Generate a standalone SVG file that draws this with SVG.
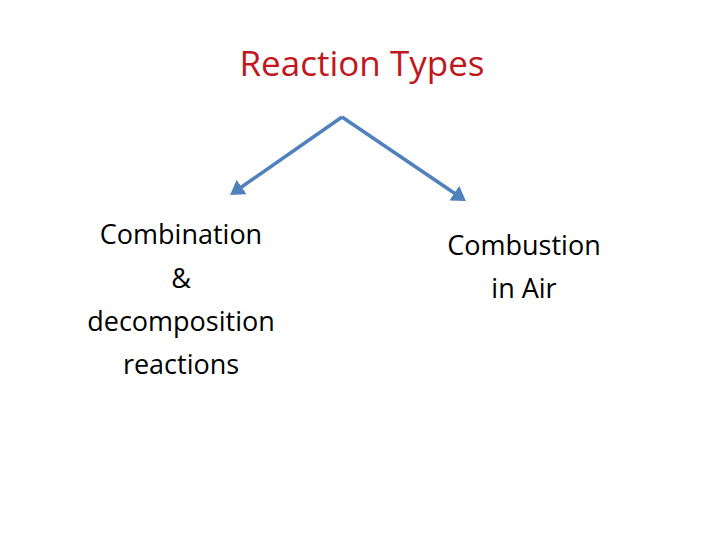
<svg xmlns="http://www.w3.org/2000/svg" width="720" height="540" viewBox="0 0 720 540">
<style>
.t{font-family:"Open Sans","Liberation Sans",sans-serif;text-anchor:middle;fill:#000;font-size:27px}
.c{stroke:#4f81bd;stroke-width:3.5;fill:none}
</style>
<defs><marker id="a" markerWidth="5" markerHeight="5" refX="3" refY="2.5" orient="auto" markerUnits="strokeWidth"><path d="M0,0 L4,2.5 L0,5 Z" fill="#4f81bd"/></marker></defs>
<rect width="720" height="540" fill="#fff"/>
<g id="title"><text x="362" y="76" class="t" style="font-size:35px;fill:#c0181c">Reaction Types</text></g>
<g id="connectors">
<path class="c" d="M342,117 L233,193" marker-end="url(#a)"/>
<path class="c" d="M342,117 L463,199" marker-end="url(#a)"/>
</g>
<g id="left"><text class="t"><tspan x="181" y="244">Combination</tspan><tspan x="181" y="288">&amp;</tspan><tspan x="181" y="331">decomposition</tspan><tspan x="181" y="374">reactions</tspan></text></g>
<g id="right"><text class="t"><tspan x="524" y="255">Combustion</tspan><tspan x="524" y="298">in Air</tspan></text></g>
</svg>
